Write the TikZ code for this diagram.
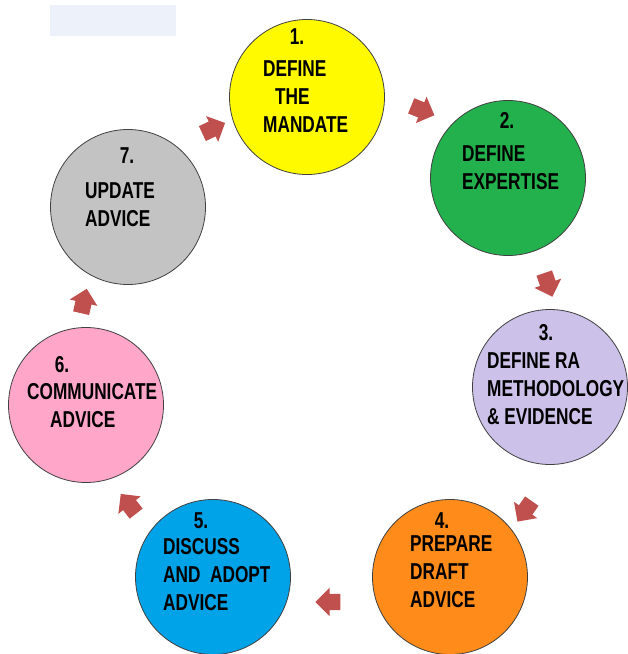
\documentclass[tikz,border=0pt]{standalone}
\usepackage{fontspec}
\newfontfamily\stagefont[FakeStretch=0.75]{Liberation Sans}
\usepackage{tikz}
\usetikzlibrary{positioning,shapes.arrows}
\definecolor{stageyellow}{RGB}{255,250,0}
\definecolor{stagegreen}{RGB}{34,177,76}
\definecolor{stagelilac}{RGB}{204,193,232}
\definecolor{stageorange}{RGB}{255,140,26}
\definecolor{stageblue}{RGB}{0,162,232}
\definecolor{stagepink}{RGB}{255,166,201}
\definecolor{stagegray}{RGB}{195,195,195}
\definecolor{flowred}{RGB}{192,80,77}
\definecolor{boxblue}{RGB}{237,242,250}
\tikzset{stage node/.style={circle,draw=black!75,line width=0.8pt,minimum size=155pt,inner sep=0pt},}
\tikzstyle{stxt} = [font=\stagefont\bfseries\fontsize{23}{28}\selectfont,align=left,anchor=north west,inner sep=0pt]
\tikzstyle{snum} = [font=\stagefont\bfseries\fontsize{23}{28}\selectfont,inner sep=0pt]
\tikzstyle{flow arrow} = [single arrow,fill=flowred,inner xsep=0pt,inner ysep=8pt,minimum height=25pt,single arrow head extend=6pt]

\begin{document}
\begin{tikzpicture}[x=1pt,y=-1pt]
                    \useasboundingbox (0,0) rectangle (628,654);
                    \fill[boxblue] (50,5) rectangle (176,36);
                    \node[stage node,fill=stageyellow] (1) at (307,97)  {};
                    \node[stage node,fill=stagegreen]  (2) at (508,178) {};
                    \node[stage node,fill=stagelilac]  (3) at (550,387) {};
                    \node[stage node,fill=stageorange] (4) at (450,577) {};
                    \node[stage node,fill=stageblue]   (5) at (213,577) {};
                    \node[stage node,fill=stagepink]   (6) at (86,405)  {};
                    \node[stage node,fill=stagegray]   (7) at (128,207) {};
                    \node[snum] (n1) at (297,37)  {1.};
                    \node[snum] (n2) at (507,120) {2.};
                    \node[snum] (n3) at (546,333) {3.};
                    \node[snum] (n4) at (442,521) {4.};
                    \node[snum] (n5) at (201,521) {5.};
                    \node[snum] (n6) at (62,365)  {6.};
                    \node[snum] (n7) at (127,156) {7.};
                    \node[stxt] (t1) at (263,60)  {DEFINE\\\hspace*{12pt}THE\\MANDATE};
                    \node[stxt] (t2) at (462,145) {DEFINE\\EXPERTISE};
                    \node[stxt] (t3) at (487,352) {DEFINE RA\\METHODOLOGY\\\& EVIDENCE};
                    \node[stxt] (t4) at (410,535) {PREPARE\\DRAFT\\ADVICE};
                    \node[stxt] (t5) at (163,538) {DISCUSS\\AND\ \ ADOPT\\ADVICE};
                    \node[stxt] (t6) at (27,383)  {COMMUNICATE\\\hspace*{23pt}ADVICE};
                    \node[stxt] (t7) at (85,182)  {UPDATE\\ADVICE};
                    \node[flow arrow,rotate=25]   (a71) at (210,130) {};
                    \node[flow arrow,rotate=-22]  (a12) at (419,109) {};
                    \node[flow arrow,rotate=-71]  (a23) at (547,281) {};
                    \node[flow arrow,rotate=-125] (a34) at (527,508) {};
                    \node[flow arrow,rotate=180]  (a45) at (332,602) {};
                    \node[flow arrow,rotate=128]  (a56) at (131,507) {};
                    \node[flow arrow,rotate=77]   (a67) at (83,305)  {};
                \end{tikzpicture}
\end{document}
